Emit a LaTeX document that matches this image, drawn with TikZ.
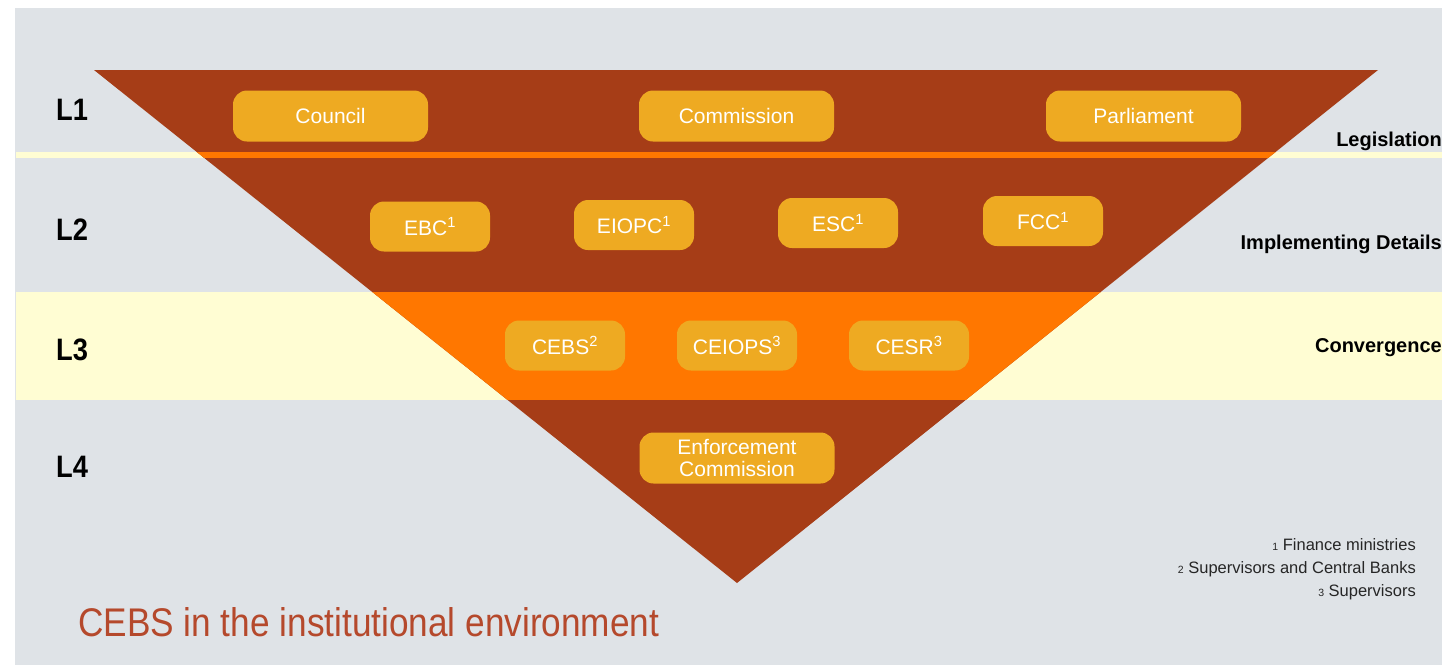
\documentclass[tikz,border=0pt]{standalone}
\usepackage{fontspec}
\setmainfont{Liberation Sans}
\newfontfamily\condfont[FakeStretch=0.88]{Liberation Sans}
\definecolor{bggray}{HTML}{DFE3E7}
\definecolor{rust}{HTML}{A63D17}
\definecolor{hotorange}{HTML}{FF7700}
\definecolor{paleyellow}{HTML}{FFFDD3}
\definecolor{amber}{HTML}{EEAA22}
\definecolor{titlebrown}{HTML}{B5492C}
\tikzset{inst/.style={fill=amber, rounded corners=14pt, text=white, align=center, inner sep=0pt, font=\fontsize{21}{22}\selectfont},
  wide/.style={inst, minimum width=195pt, minimum height=51pt},
  narrow/.style={inst, minimum width=120pt, minimum height=50pt},
  lvl/.style={anchor=west, inner sep=0pt, font=\condfont\bfseries\fontsize{31}{31}\selectfont},
  role/.style={anchor=base east, inner sep=0pt, font=\bfseries\fontsize{20}{20}\selectfont},
  fnote/.style={anchor=base east, inner sep=0pt, text=black!85, font=\fontsize{16.5}{16.5}\selectfont}}
\newcommand{\fnmark}[1]{{\fontsize{10.5}{10.5}\selectfont #1}\ }

\begin{document}
\begin{tikzpicture}[x=1pt, y=-1pt]
\useasboundingbox (0,0) rectangle (1442,665);
\fill[bggray] (15,8) rectangle (1442,665);
\fill[paleyellow] (16,152) rectangle (1442,158);
\fill[paleyellow] (16,292) rectangle (1442,400);
\fill[rust] (94,70) -- (1378,70) -- (737,583) -- cycle;
\begin{scope}
\clip (94,70) -- (1378,70) -- (737,583) -- cycle;
\fill[hotorange] (16,152) rectangle (1442,158);
\fill[hotorange] (16,292) rectangle (1442,400);
\end{scope}

\node[lvl] (l1) at (56,110) {L1};
\node[lvl] (l2) at (56,230) {L2};
\node[lvl] (l3) at (56,350) {L3};
\node[lvl] (l4) at (56,467) {L4};

\node[wide] (council) at (330.5,116) {Council};
\node[wide] (commission) at (736.5,116) {Commission};
\node[wide] (parliament) at (1143.5,116) {Parliament};

\node[narrow] (ebc) at (430,226.5) {EBC\textsuperscript{1}};
\node[narrow] (eiopc) at (634,225) {EIOPC\textsuperscript{1}};
\node[narrow] (esc) at (838,223) {ESC\textsuperscript{1}};
\node[narrow] (fcc) at (1043,221) {FCC\textsuperscript{1}};

\node[narrow] (cebs) at (565,345.5) {CEBS\textsuperscript{2}};
\node[narrow] (ceiops) at (737,345.5) {CEIOPS\textsuperscript{3}};
\node[narrow] (cesr) at (909,345.5) {CESR\textsuperscript{3}};

\node[wide] (enforce) at (737,458) {Enforcement\\Commission};

\node[role] (legis) at (1442,146) {Legislation};
\node[role] (impl) at (1442,249) {Implementing Details};
\node[role] (conv) at (1442,352) {Convergence};

\node[fnote] (fn1) at (1416,550) {\fnmark{1}Finance ministries};
\node[fnote] (fn2) at (1416,573) {\fnmark{2}Supervisors and Central Banks};
\node[fnote] (fn3) at (1416,596) {\fnmark{3}Supervisors};

\node[anchor=base west, inner sep=0pt, text=titlebrown, font=\condfont\fontsize{40}{40}\selectfont] (title) at (78,636) {CEBS in the institutional environment};
\end{tikzpicture}
\end{document}
